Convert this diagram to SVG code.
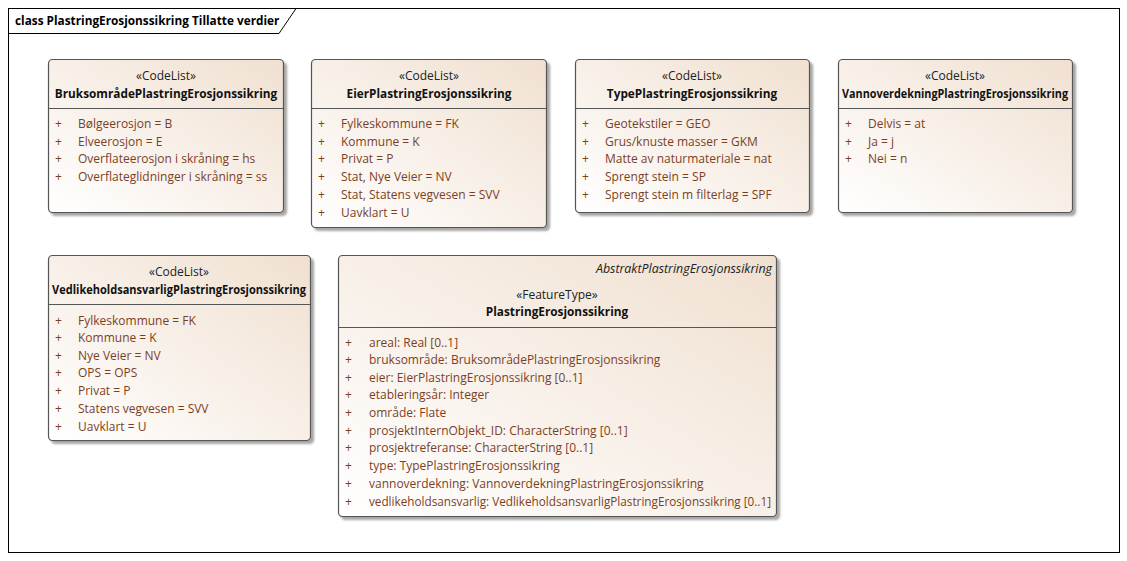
<svg xmlns="http://www.w3.org/2000/svg" width="1127" height="561" viewBox="0 0 1127 561">
<defs>
<linearGradient id="g" x1="0" y1="1" x2="1" y2="0">
<stop offset="0" stop-color="#FFFFFF"/>
<stop offset="1" stop-color="#F0E0D0"/>
</linearGradient>
<filter id="sh" x="-5%" y="-5%" width="115%" height="115%">
<feGaussianBlur in="SourceAlpha" stdDeviation="1.2"/>
<feOffset dx="3" dy="3" result="b"/>
<feComponentTransfer><feFuncA type="linear" slope="0.35"/></feComponentTransfer>
<feMerge><feMergeNode/><feMergeNode in="SourceGraphic"/></feMerge>
</filter>
</defs>
<style>
text{font-family:"Open Sans","Noto Sans","Liberation Sans",sans-serif;font-size:12px}
.box{fill:url(#g);stroke:#555;stroke-width:1.2}
.sep{stroke:#555;stroke-width:1}
.st{fill:#222;text-anchor:middle}
.nm{fill:#111;font-weight:bold;font-size:11.8px;text-anchor:middle}
.ab{fill:#222;font-style:italic;font-size:12.4px;text-anchor:end}
.at{fill:#7B3F1F}
.pl{fill:#7B3F1F}
.ttl{font-weight:bold;font-size:11.8px;fill:#000}
</style>
<rect x="0" y="0" width="1127" height="561" fill="#FFFFFF"/>
<g id="frame">
<rect x="8.5" y="8.5" width="1111" height="544" fill="none" stroke="#000" stroke-width="1"/>
<path d="M8.5 33.5 H279 L296 8.5" fill="none" stroke="#000" stroke-width="1"/>
<text class="ttl" x="15" y="25">class PlastringErosjonssikring Tillatte verdier</text>
</g>
<g id="connectors"></g>
<g id="BruksomradePlastringErosjonssikring">
<rect class="box" x="48.5" y="59.5" width="235" height="153" rx="4" filter="url(#sh)"/>
<line class="sep" x1="48.5" y1="108.5" x2="283.5" y2="108.5"/>
<text class="st" x="166" y="80">«CodeList»</text>
<text class="nm" x="166" y="98">BruksområdePlastringErosjonssikring</text>
<text class="pl" x="55" y="128">+</text><text class="at" x="78" y="128">Bølgeerosjon = B</text>
<text class="pl" x="55" y="146">+</text><text class="at" x="78" y="146">Elveerosjon = E</text>
<text class="pl" x="55" y="163">+</text><text class="at" x="78" y="163">Overflateerosjon i skråning = hs</text>
<text class="pl" x="55" y="181">+</text><text class="at" x="78" y="181">Overflateglidninger i skråning = ss</text>
</g>
<g id="EierPlastringErosjonssikring">
<rect class="box" x="311.5" y="59.5" width="235" height="168" rx="4" filter="url(#sh)"/>
<line class="sep" x1="311.5" y1="108.5" x2="546.5" y2="108.5"/>
<text class="st" x="429" y="80">«CodeList»</text>
<text class="nm" x="429" y="98">EierPlastringErosjonssikring</text>
<text class="pl" x="318" y="128">+</text><text class="at" x="341" y="128">Fylkeskommune = FK</text>
<text class="pl" x="318" y="146">+</text><text class="at" x="341" y="146">Kommune = K</text>
<text class="pl" x="318" y="163">+</text><text class="at" x="341" y="163">Privat = P</text>
<text class="pl" x="318" y="181">+</text><text class="at" x="341" y="181">Stat, Nye Veier = NV</text>
<text class="pl" x="318" y="199">+</text><text class="at" x="341" y="199">Stat, Statens vegvesen = SVV</text>
<text class="pl" x="318" y="217">+</text><text class="at" x="341" y="217">Uavklart = U</text>
</g>
<g id="TypePlastringErosjonssikring">
<rect class="box" x="575.5" y="59.5" width="234" height="153" rx="4" filter="url(#sh)"/>
<line class="sep" x1="575.5" y1="108.5" x2="809.5" y2="108.5"/>
<text class="st" x="692" y="80">«CodeList»</text>
<text class="nm" x="692" y="98">TypePlastringErosjonssikring</text>
<text class="pl" x="582" y="128">+</text><text class="at" x="605" y="128">Geotekstiler = GEO</text>
<text class="pl" x="582" y="146">+</text><text class="at" x="605" y="146">Grus/knuste masser = GKM</text>
<text class="pl" x="582" y="163">+</text><text class="at" x="605" y="163">Matte av naturmateriale = nat</text>
<text class="pl" x="582" y="181">+</text><text class="at" x="605" y="181">Sprengt stein = SP</text>
<text class="pl" x="582" y="199">+</text><text class="at" x="605" y="199">Sprengt stein m filterlag = SPF</text>
</g>
<g id="VannoverdekningPlastringErosjonssikring">
<rect class="box" x="838.5" y="59.5" width="234" height="153" rx="4" filter="url(#sh)"/>
<line class="sep" x1="838.5" y1="108.5" x2="1072.5" y2="108.5"/>
<text class="st" x="955" y="80">«CodeList»</text>
<text class="nm" x="955" y="98" textLength="226" lengthAdjust="spacingAndGlyphs">VannoverdekningPlastringErosjonssikring</text>
<text class="pl" x="845" y="128">+</text><text class="at" x="868" y="128">Delvis = at</text>
<text class="pl" x="845" y="146">+</text><text class="at" x="868" y="146">Ja = j</text>
<text class="pl" x="845" y="163">+</text><text class="at" x="868" y="163">Nei = n</text>
</g>
<g id="VedlikeholdsansvarligPlastringErosjonssikring">
<rect class="box" x="48.5" y="255.5" width="262" height="185" rx="4" filter="url(#sh)"/>
<line class="sep" x1="48.5" y1="304.5" x2="310.5" y2="304.5"/>
<text class="st" x="179" y="276">«CodeList»</text>
<text class="nm" x="179" y="294" textLength="254" lengthAdjust="spacingAndGlyphs">VedlikeholdsansvarligPlastringErosjonssikring</text>
<text class="pl" x="55" y="325">+</text><text class="at" x="78" y="325">Fylkeskommune = FK</text>
<text class="pl" x="55" y="342">+</text><text class="at" x="78" y="342">Kommune = K</text>
<text class="pl" x="55" y="360">+</text><text class="at" x="78" y="360">Nye Veier = NV</text>
<text class="pl" x="55" y="377">+</text><text class="at" x="78" y="377">OPS = OPS</text>
<text class="pl" x="55" y="395">+</text><text class="at" x="78" y="395">Privat = P</text>
<text class="pl" x="55" y="413">+</text><text class="at" x="78" y="413">Statens vegvesen = SVV</text>
<text class="pl" x="55" y="431">+</text><text class="at" x="78" y="431">Uavklart = U</text>
</g>
<g id="PlastringErosjonssikring">
<rect class="box" x="338.5" y="255.5" width="438" height="261" rx="4" filter="url(#sh)"/>
<line class="sep" x1="338.5" y1="327.5" x2="776.5" y2="327.5"/>
<text class="ab" x="772" y="273">AbstraktPlastringErosjonssikring</text>
<text class="st" x="557" y="299">«FeatureType»</text>
<text class="nm" x="557" y="316">PlastringErosjonssikring</text>
<text class="pl" x="345" y="347">+</text><text class="at" x="369" y="347">areal: Real [0..1]</text>
<text class="pl" x="345" y="364">+</text><text class="at" x="369" y="364">bruksområde: BruksområdePlastringErosjonssikring</text>
<text class="pl" x="345" y="382">+</text><text class="at" x="369" y="382">eier: EierPlastringErosjonssikring [0..1]</text>
<text class="pl" x="345" y="399">+</text><text class="at" x="369" y="399">etableringsår: Integer</text>
<text class="pl" x="345" y="417">+</text><text class="at" x="369" y="417">område: Flate</text>
<text class="pl" x="345" y="435">+</text><text class="at" x="369" y="435">prosjektInternObjekt_ID: CharacterString [0..1]</text>
<text class="pl" x="345" y="452">+</text><text class="at" x="369" y="452">prosjektreferanse: CharacterString [0..1]</text>
<text class="pl" x="345" y="470">+</text><text class="at" x="369" y="470">type: TypePlastringErosjonssikring</text>
<text class="pl" x="345" y="488">+</text><text class="at" x="369" y="488">vannoverdekning: VannoverdekningPlastringErosjonssikring</text>
<text class="pl" x="345" y="506">+</text><text class="at" x="369" y="506" textLength="402" lengthAdjust="spacingAndGlyphs">vedlikeholdsansvarlig: VedlikeholdsansvarligPlastringErosjonssikring [0..1]</text>
</g>
</svg>
